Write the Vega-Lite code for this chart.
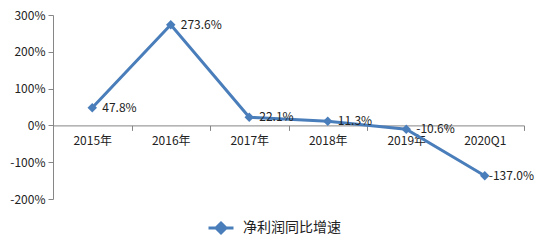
{
  "$schema": "https://vega.github.io/schema/vega-lite/v6.json",
  "width": 471,
  "height": 184,
  "autosize": "none",
  "padding": {"left": 53, "top": 15, "right": 15, "bottom": 48},
  "background": "white",
  "config": {
    "view": {"stroke": null},
    "font": "Noto Sans CJK SC"
  },
  "data": {
    "values": [
      {"period": "2015年", "growth": 47.8},
      {"period": "2016年", "growth": 273.6},
      {"period": "2017年", "growth": 22.1},
      {"period": "2018年", "growth": 11.3},
      {"period": "2019年", "growth": -10.6},
      {"period": "2020Q1", "growth": -137.0}
    ]
  },
  "transform": [
    {"calculate": "replace(format(datum.growth, '.1f'), '\u2212', '-') + '%'", "as": "label"}
  ],
  "encoding": {
    "x": {
      "field": "period",
      "type": "ordinal",
      "sort": null,
      "scale": {"type": "band", "paddingInner": 0, "paddingOuter": 0},
      "axis": {
        "title": null,
        "labelAngle": 0,
        "offset": -73.6,
        "tickBand": "extent",
        "domainColor": "#868686",
        "tickColor": "#868686",
        "tickSize": 5,
        "labelPadding": 5,
        "labelFontSize": 12,
        "labelColor": "#222222",
        "labelFont": "Noto Sans CJK SC"
      }
    },
    "y": {
      "field": "growth",
      "type": "quantitative",
      "scale": {"domain": [-200, 300], "nice": false, "zero": false},
      "axis": {
        "title": null,
        "values": [-200, -100, 0, 100, 200, 300],
        "labelExpr": "datum.value + '%'",
        "grid": false,
        "domainColor": "#868686",
        "tickColor": "#868686",
        "tickSize": 5,
        "labelPadding": 3,
        "labelFontSize": 12,
        "labelColor": "#222222",
        "labelFont": "Noto Sans CJK SC"
      }
    }
  },
  "layer": [
    {
      "mark": {"type": "line", "strokeWidth": 3},
      "encoding": {
        "color": {
          "datum": "净利润同比增速",
          "scale": {"range": ["#4A7EBB"]},
          "legend": {
            "title": null,
            "orient": "none",
            "legendX": 154,
            "legendY": 199,
            "direction": "horizontal",
            "labelFontSize": 14,
            "labelColor": "#222222",
            "labelFont": "Noto Sans CJK SC",
            "symbolSize": 625,
            "labelOffset": 8,
            "encode": {
              "symbols": {
                "update": {
                  "shape": {"value": "M-1,0H1M0,-0.4L0.4,0L0,0.4L-0.4,0Z"},
                  "fill": {"value": "#4A7EBB"},
                  "stroke": {"value": "#4A7EBB"},
                  "strokeWidth": {"value": 3},
                  "opacity": {"value": 1}
                }
              }
            }
          }
        }
      }
    },
    {
      "mark": {"type": "point", "shape": "diamond", "filled": true, "size": 90, "color": "#4A7EBB", "opacity": 1}
    },
    {
      "transform": [{"filter": "datum.period !== '2020Q1'"}],
      "mark": {"type": "text", "align": "left", "baseline": "middle", "dx": 10, "fontSize": 12, "color": "#222222", "font": "Noto Sans CJK SC"},
      "encoding": {"text": {"field": "label"}}
    },
    {
      "transform": [{"filter": "datum.period === '2020Q1'"}],
      "mark": {"type": "text", "align": "left", "baseline": "middle", "dx": 4, "fontSize": 12, "color": "#222222", "font": "Noto Sans CJK SC"},
      "encoding": {"text": {"field": "label"}}
    }
  ]
}
